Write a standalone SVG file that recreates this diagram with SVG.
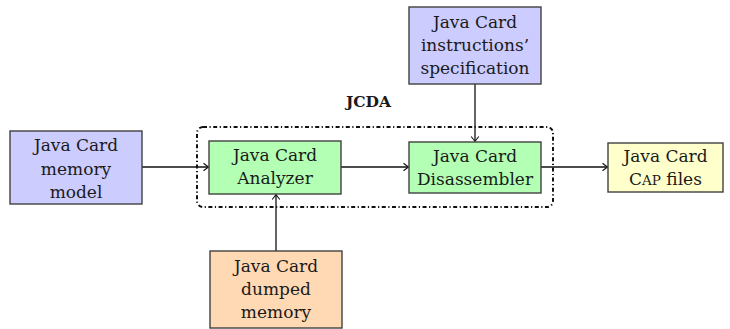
<svg xmlns="http://www.w3.org/2000/svg" width="730" height="329" viewBox="0 0 730 329">
<defs>
<style>
.box{stroke:#404040;stroke-width:1.4}
.blue{fill:#ccccff}
.green{fill:#b3ffb3}
.orange{fill:#ffd9b3}
.yellow{fill:#ffffcc}
text{font-family:"DejaVu Serif",serif;font-size:17px;fill:#1a1a1a;text-anchor:middle}
.bold{font-weight:bold;font-size:15.5px}
.conn{stroke:#111;stroke-width:1.3;fill:none;marker-end:url(#arr)}
.frame{fill:none;stroke:#111;stroke-width:2;stroke-dasharray:4 2.5 1.2 2.5}
</style>
<marker id="arr" viewBox="-6 -5 8 10" refX="0" refY="0" markerWidth="8" markerHeight="10" markerUnits="userSpaceOnUse" orient="auto">
<path d="M-4.5,-3.8 Q-1,-1 0.5,0 Q-1,1 -4.5,3.8" fill="none" stroke="#111" stroke-width="1.1"/>
</marker>
</defs>
<rect class="frame" x="197" y="127" width="356" height="80" rx="6"/>
<text class="bold" x="368.5" y="107">JCDA</text>
<g id="connectors">
<line class="conn" x1="142" y1="167" x2="208" y2="167"/>
<line class="conn" x1="341" y1="167" x2="408" y2="167"/>
<line class="conn" x1="541" y1="167" x2="607" y2="167"/>
<line class="conn" x1="475" y1="84" x2="475" y2="141"/>
<line class="conn" x1="276" y1="251" x2="276" y2="195"/>
</g>
<g id="memory-model">
<rect class="box blue" x="10" y="131" width="132" height="73"/>
<text x="76" y="151">Java Card</text>
<text x="76" y="175">memory</text>
<text x="76" y="198">model</text>
</g>
<g id="analyzer">
<rect class="box green" x="209" y="141" width="132" height="53"/>
<text x="275" y="161">Java Card</text>
<text x="275" y="184">Analyzer</text>
</g>
<g id="disassembler">
<rect class="box green" x="409" y="142" width="132" height="51"/>
<text x="475" y="162">Java Card</text>
<text x="475" y="185">Disassembler</text>
</g>
<g id="cap-files">
<rect class="box yellow" x="608" y="143" width="115" height="49"/>
<text x="665.5" y="162">Java Card</text>
<text x="665.5" y="185">C<tspan font-size="13.5">AP</tspan> files</text>
</g>
<g id="instructions">
<rect class="box blue" x="409" y="7" width="132" height="77"/>
<text x="475" y="28">Java Card</text>
<text x="475" y="51">instructions’</text>
<text x="475" y="74">specification</text>
</g>
<g id="dumped-memory">
<rect class="box orange" x="210" y="251" width="132" height="77"/>
<text x="276" y="272">Java Card</text>
<text x="276" y="295">dumped</text>
<text x="276" y="318">memory</text>
</g>
</svg>
